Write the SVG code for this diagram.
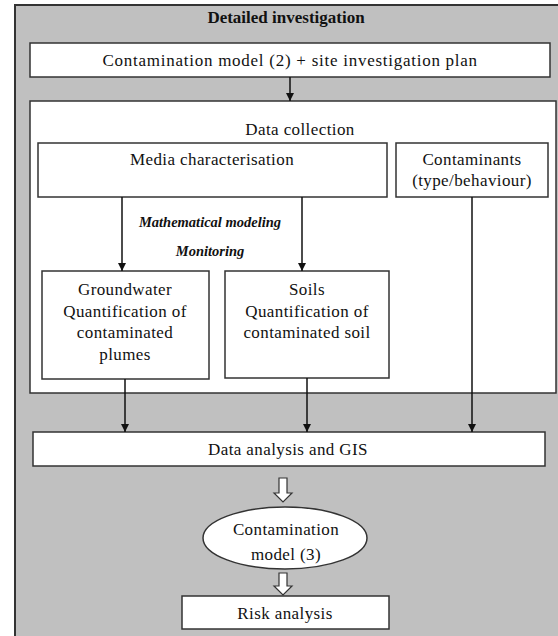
<svg xmlns="http://www.w3.org/2000/svg" width="558" height="636" viewBox="0 0 558 636">
<defs>
<style>
.box{fill:#fff;stroke:#333;stroke-width:1.5}
.t{font-size:17px;fill:#111;text-anchor:middle;letter-spacing:0.4px}
.b{font-weight:bold;letter-spacing:0}
.i{font-weight:bold;font-style:italic;font-size:14.5px;letter-spacing:0}
.ln{stroke:#111;stroke-width:1.5;fill:none}
.hol{fill:#fff;stroke:#333;stroke-width:1.2}
</style>
<marker id="ah" viewBox="0 0 10 10" refX="10" refY="5" markerWidth="8" markerHeight="8" markerUnits="userSpaceOnUse" orient="auto">
<path d="M0,0 L10,5 L0,10 z" fill="#111"/>
</marker>
</defs>
<rect width="558" height="636" fill="#fff"/>
<g id="outer">
<rect x="15" y="5" width="550" height="640" fill="#c0c0c0" stroke="#333" stroke-width="2"/>
<text class="t b" font-family="Liberation Serif" x="286" y="23">Detailed investigation</text>
</g>
<g id="top">
<rect class="box" x="30" y="43" width="520" height="34"/>
<text class="t" font-family="Liberation Serif" x="290" y="66" textLength="375" lengthAdjust="spacing">Contamination model (2) + site investigation plan</text>
</g>
<g id="datacollection">
<rect class="box" x="30" y="101" width="526" height="292"/>
<text class="t" font-family="Liberation Serif" x="300" y="135">Data collection</text>
</g>
<g id="media">
<rect class="box" x="38" y="143" width="349" height="54"/>
<text class="t" font-family="Liberation Serif" x="212" y="165">Media characterisation</text>
</g>
<g id="contaminants">
<rect class="box" x="396" y="143" width="152" height="54"/>
<text class="t" font-family="Liberation Serif" x="472" y="165">Contaminants</text>
<text class="t" font-family="Liberation Serif" x="472" y="186">(type/behaviour)</text>
</g>
<g id="labels">
<text class="t i" font-family="Liberation Serif" x="210" y="227">Mathematical modeling</text>
<text class="t i" font-family="Liberation Serif" x="210" y="256">Monitoring</text>
</g>
<g id="groundwater">
<rect class="box" x="42" y="271" width="167" height="108"/>
<text class="t" font-family="Liberation Serif" x="125" y="295">Groundwater</text>
<text class="t" font-family="Liberation Serif" x="125" y="317">Quantification of</text>
<text class="t" font-family="Liberation Serif" x="125" y="338">contaminated</text>
<text class="t" font-family="Liberation Serif" x="125" y="360">plumes</text>
</g>
<g id="soils">
<rect class="box" x="225" y="271" width="164" height="107"/>
<text class="t" font-family="Liberation Serif" x="307" y="295">Soils</text>
<text class="t" font-family="Liberation Serif" x="307" y="317">Quantification of</text>
<text class="t" font-family="Liberation Serif" x="307" y="338">contaminated soil</text>
</g>
<g id="dataanalysis">
<rect class="box" x="33" y="432" width="512" height="34"/>
<text class="t" font-family="Liberation Serif" x="288" y="455">Data analysis and GIS</text>
</g>
<g id="model3">
<ellipse cx="285" cy="538" rx="82" ry="31" fill="#fff" stroke="#333" stroke-width="1.5"/>
<text class="t" font-family="Liberation Serif" x="286" y="535">Contamination</text>
<text class="t" font-family="Liberation Serif" x="286" y="560">model (3)</text>
</g>
<g id="risk">
<rect class="box" x="182" y="596" width="207" height="33"/>
<text class="t" font-family="Liberation Serif" x="285" y="619">Risk analysis</text>
</g>
<g id="connectors">
<line class="ln" x1="290" y1="77" x2="290" y2="101" marker-end="url(#ah)"/>
<line class="ln" x1="122" y1="197" x2="122" y2="271" marker-end="url(#ah)"/>
<line class="ln" x1="302" y1="197" x2="302" y2="271" marker-end="url(#ah)"/>
<line class="ln" x1="125" y1="379" x2="125" y2="432" marker-end="url(#ah)"/>
<line class="ln" x1="307" y1="378" x2="307" y2="432" marker-end="url(#ah)"/>
<line class="ln" x1="472" y1="197" x2="472" y2="432" marker-end="url(#ah)"/>
<path class="hol" d="M279,478 h8 v15 h5 l-9,9 l-9,-9 h5 z"/>
<path class="hol" d="M279,573 h8 v13 h5 l-9,9 l-9,-9 h5 z"/>
</g>
</svg>
